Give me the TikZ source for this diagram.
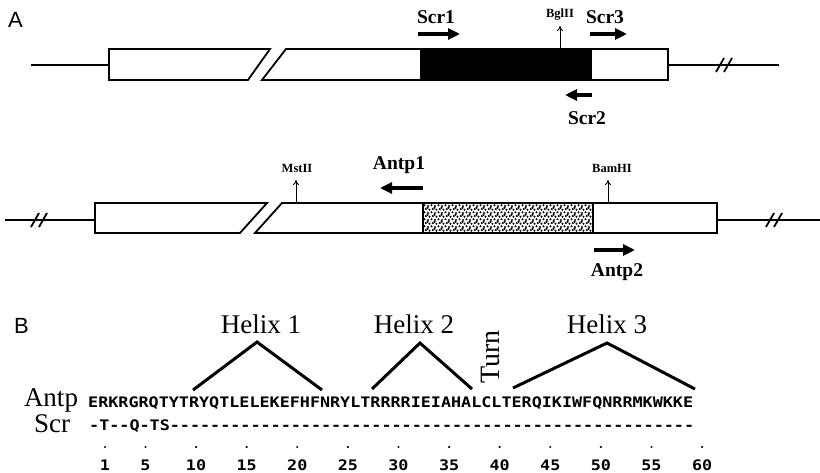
\documentclass[tikz,border=0pt]{standalone}
\usepackage{fontspec}
\setmainfont{Liberation Serif}
\setmonofont{DejaVu Sans Mono}[FakeStretch=1.155]
\newfontfamily\panelfont{Liberation Sans}
\usetikzlibrary{arrows.meta,patterns}
\pgfdeclarepatternformonly{stipdots}{\pgfqpoint{-2pt}{-2pt}}{\pgfqpoint{9pt}{9pt}}{\pgfqpoint{7pt}{7pt}}{%
  \pgfpathcircle{\pgfqpoint{1pt}{1pt}}{1.15pt}%
  \pgfpathcircle{\pgfqpoint{4.5pt}{1.8pt}}{1.15pt}%
  \pgfpathcircle{\pgfqpoint{2.5pt}{4.2pt}}{1.15pt}%
  \pgfpathcircle{\pgfqpoint{5.8pt}{4.9pt}}{1.15pt}%
  \pgfpathcircle{\pgfqpoint{0.6pt}{6.2pt}}{1.15pt}%
  \pgfusepath{fill}}
\begin{document}
\begin{tikzpicture}[x=1pt,y=-1pt,
  gline/.style={line width=1.4pt},
  gbox/.style={draw,line width=1.8pt,fill=white,line join=miter},
  primer/.style={line width=3.5pt,-{Triangle[length=12pt,width=11pt]}},
  site/.style={line width=0.9pt,-{To[length=5pt,width=6pt]}},
  plab/.style={font=\fontsize{19.5}{19.5}\selectfont\bfseries,inner sep=0pt},
  slab/.style={font=\fontsize{12.5}{12.5}\selectfont\bfseries,inner sep=0pt},
  helixline/.style={line width=3pt},
  hlab/.style={font=\fontsize{27}{27}\selectfont,inner sep=0pt,anchor=base},
  rowlab/.style={font=\fontsize{27}{27}\selectfont,inner sep=0pt,anchor=base},
  seq/.style={font=\ttfamily\bfseries\fontsize{14.5}{14.5}\selectfont,inner sep=0pt,anchor=base west},
  num/.style={font=\ttfamily\bfseries\fontsize{14.5}{14.5}\selectfont,inner sep=0pt,anchor=base},
  panel/.style={font=\panelfont\fontsize{22}{22}\selectfont,inner sep=0pt,anchor=base west},
  brk/.style={line width=1.8pt},
]
\useasboundingbox (0,0) rectangle (820,473);

% ---------- panel A : Scr ----------
\node[panel] (labA) at (8,28) {A};
\draw[gline] (31,65) -- (109,65);
\draw[gline] (668,65) -- (779,65);
\draw[brk] (716,72) -- (724,58);
\draw[brk] (724,72) -- (732,58);
\draw[gbox] (109,49) -- (270,49) -- (248,80) -- (109,80) -- cycle;
\draw[gbox] (286,49) -- (668,49) -- (668,80) -- (262,80) -- cycle;
\fill[black] (421,49) rectangle (591,80);
\draw[line width=1.8pt] (421,49) rectangle (591,80);

\coordinate (s1a) at (418,34); \coordinate (s1b) at (460,34);
\coordinate (s3a) at (590,34); \coordinate (s3b) at (627,34);
\coordinate (s2a) at (592,95); \coordinate (s2b) at (565,95);
\coordinate (bga) at (560,49); \coordinate (bgb) at (560,26);
\draw[primer] (s1a) -- (s1b);
\draw[primer] (s3a) -- (s3b);
\draw[primer] (s2a) -- (s2b);
\draw[site] (bga) -- (bgb);
\node[plab] (scr1) at (436,17) {Scr1};
\node[plab] (scr3) at (605,17) {Scr3};
\node[plab] (scr2) at (587,118) {Scr2};
\node[slab] (bgl) at (560,15) {BglII};

% ---------- panel A : Antp ----------
\draw[gline] (5,220) -- (95,220);
\draw[gline] (717,220) -- (820,220);
\draw[brk] (31,227) -- (39,213);
\draw[brk] (39,227) -- (47,213);
\draw[brk] (766,227) -- (774,213);
\draw[brk] (774,227) -- (782,213);
\draw[gbox] (95,203) -- (267,203) -- (240,233) -- (95,233) -- cycle;
\draw[gbox] (282,203) -- (717,203) -- (717,233) -- (255,233) -- cycle;
\fill[pattern=stipdots,pattern color=black] (423,203) rectangle (593,233);
\draw[line width=1.8pt] (423,203) rectangle (593,233);

\coordinate (a1a) at (423,188); \coordinate (a1b) at (380,188);
\coordinate (a2a) at (594,250); \coordinate (a2b) at (635,250);
\coordinate (msa) at (296,203); \coordinate (msb) at (296,180);
\coordinate (bma) at (608,203); \coordinate (bmb) at (608,180);
\draw[primer] (a1a) -- (a1b);
\draw[primer] (a2a) -- (a2b);
\draw[site] (msa) -- (msb);
\draw[site] (bma) -- (bmb);
\node[plab] (antp1) at (399,165) {Antp1};
\node[plab] (antp2) at (617,272) {Antp2};
\node[slab] (mst) at (297,168) {MstII};
\node[slab] (bam) at (612,168) {BamHI};

% ---------- panel B ----------
\node[panel] (labB) at (14,334) {B};
\node[hlab] (h1) at (261,334) {Helix 1};
\node[hlab] (h2) at (414,334) {Helix 2};
\node[hlab] (h3) at (607,334) {Helix 3};
\node[font=\fontsize{28}{28}\selectfont,inner sep=0pt,rotate=90] (turn) at (490,357) {Turn};
\draw[helixline] (193,390) -- (257,342) -- (322,390);
\draw[helixline] (372,389) -- (420,343) -- (472,389);
\draw[helixline] (513,388) -- (607,343) -- (695,389);

\node[rowlab] (antp) at (51,406) {Antp};
\node[rowlab] (scr) at (52,432) {Scr};
\node[seq] (antpseq) at (88,407) {ERKRGRQTYTRYQTLELEKEFHFNRYLTRRRRIEIAHALCLTERQIKIWFQNRRMKWKKE};
\node[seq] (scrseq) at (89,430) {-T--Q-TS----------------------------------------------------};

\foreach \n in {1,5,10,15,20,25,30,35,40,45,50,55,60}{
  \fill (105+\n*10.12-10.12,447) circle (1.2);
  \node[num] (n\n) at (105+\n*10.12-10.12,470) {\n};
}
\end{tikzpicture}
\end{document}
